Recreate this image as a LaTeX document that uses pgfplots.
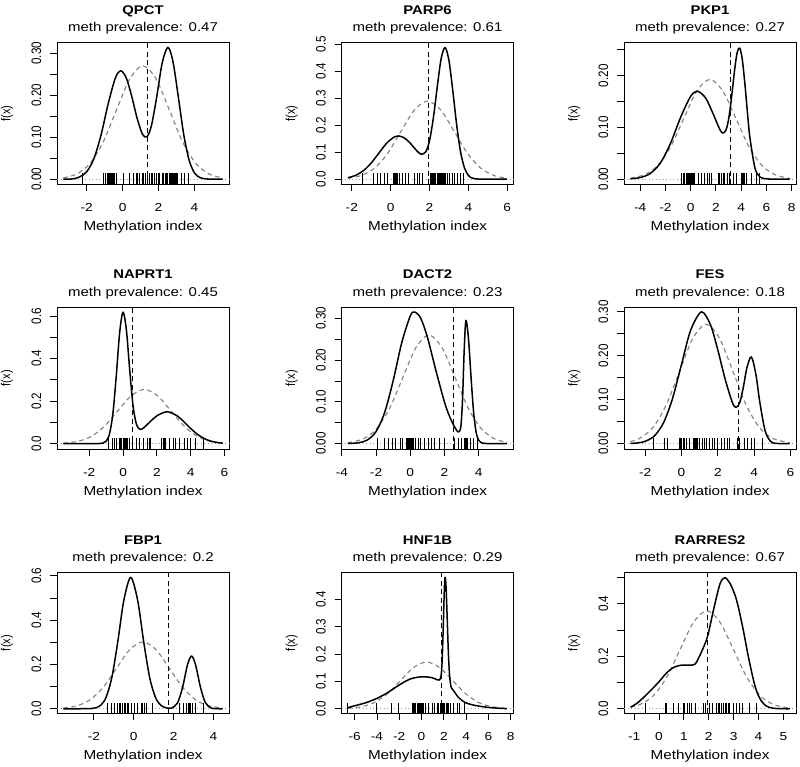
\documentclass[border=0pt]{standalone}
\usepackage{fontspec}
\setmainfont{Liberation Sans}[FakeStretch=1.176]
\newfontfamily\rotfont{Liberation Sans}[FakeStretch=0.85]
\usepackage{pgfplots}
\pgfplotsset{compat=1.18}

\newcommand\titlefont{\fontsize{12.6}{14}\selectfont\bfseries}
\newcommand\subfont{\fontsize{12.75}{14}\selectfont}
\newcommand\labfont{\fontsize{13}{14}\selectfont}
\newcommand\ylabfont{\rotfont\fontsize{13}{14}\selectfont}
\newcommand\xtickfont{\fontsize{11.65}{12}\selectfont}
\newcommand\ytickfont{\rotfont\fontsize{13.7}{14}\selectfont}

\definecolor{normgray}{gray}{0.5}
\definecolor{zerogray}{gray}{0.6}

\pgfplotsset{
  gp/.style={
    scale only axis, width=172pt, anchor=north west,
    axis line style={line width=0.9pt, black},
    tick align=outside, major tick length=7pt,
    tick style={line width=0.9pt, black},
    tick pos=left,
    clip=false,
    xticklabel style={font=\xtickfont, inner sep=0pt, anchor=base, yshift=-20pt},
    yticklabel style={font=\ytickfont, inner sep=0pt, xshift=-9pt, rotate=90, anchor=base},
    scaled ticks=false,
  },
  dens/.style={black, line width=1.5pt, smooth, no markers, line join=round},
  norm/.style={normgray, line width=1.1pt, dash pattern=on 4.5pt off 3.5pt, smooth, no markers},
  thr/.style={black, line width=1pt, dash pattern=on 5pt off 3.5pt, no markers},
  zero/.style={zerogray, line width=0.9pt, dash pattern=on 1pt off 2.5pt, no markers},
  rug/.style={only marks, mark=|, mark size=5.7pt, mark options={black, line width=1pt}},
}
\newcommand\decor[2]{%
  \node[anchor=base, yshift=28.3pt, font=\titlefont] at (rel axis cs:0.5,1) {#1};
  \node[anchor=base, yshift=10.8pt, font=\subfont] at (rel axis cs:0.5,1) {meth prevalence: #2};
  \node[anchor=base, yshift=-46pt, font=\labfont] at (rel axis cs:0.5,0) {Methylation index};
  \node[anchor=base, inner sep=0pt, xshift=-46.5pt, rotate=90, font=\ylabfont] at (rel axis cs:0,0.5) {f(x)};
}

\begin{document}
\begin{tikzpicture}
\path[use as bounding box] (0pt,0pt) rectangle (800pt,-767pt);

% ---------------- QPCT
\begin{axis}[gp, at={(57pt,-42.7pt)}, height=141.7pt,
  xmin=-3.65, xmax=5.92, ymin=-0.0125, ymax=0.325,
  xtick={-2,0,2,4}, xticklabels={-2,0,2,4},
  ytick={0,0.05,0.1,0.15,0.2,0.25,0.3}, yticklabels={0.00,,0.10,,0.20,,0.30}]
\addplot[zero] coordinates {(-3.65,0) (5.92,0)};
\addplot[norm] coordinates {(-3.3,0.003)(-2.57,0.0119)(-1.83,0.0365)(-1.09,0.0877)(-0.35,0.1638)(0.39,0.2383)(1.13,0.27)(1.87,0.2383)(2.61,0.1638)(3.35,0.0877)(4.09,0.0365)(4.83,0.0119)(5.56,0.003)};
\addplot[dens] coordinates {(-3.3,0.0001)(-2.8,0.0005)(-2.4,0.0051)(-2.0,0.0175)(-1.6,0.0484)(-1.2,0.1051)(-0.8,0.1798)(-0.4,0.2413)(-0.1,0.258)(0.2,0.2415)(0.5,0.1985)(0.8,0.1463)(1.1,0.1074)(1.35,0.1008)(1.6,0.1266)(1.9,0.1964)(2.2,0.2762)(2.52,0.314)(2.8,0.2805)(3.1,0.1958)(3.4,0.1066)(3.7,0.0452)(4.0,0.0149)(4.3,0.0038)(4.7,0.0004)(5.1,0)(5.56,0)};
\addplot[thr] coordinates {(1.37,-0.0125) (1.37,0.325)};
\addplot[rug] coordinates {(-2.21,0)(-1.06,0)(-0.95,0)(-0.85,0)(-0.8,0)(-0.75,0)(-0.7,0)(-0.65,0)(-0.6,0)(-0.55,0)(-0.5,0)(-0.45,0)(-0.35,0)(0.06,0)(0.39,0)(0.58,0)(0.76,0)(0.85,0)(0.95,0)(1.08,0)(1.17,0)(1.28,0)(1.41,0)(1.5,0)(1.6,0)(1.69,0)(1.78,0)(1.87,0)(1.97,0)(2.06,0)(2.24,0)(2.3,0)(2.36,0)(2.42,0)(2.48,0)(2.52,0)(2.62,0)(2.67,0)(2.72,0)(2.77,0)(2.82,0)(2.87,0)(2.92,0)(2.97,0)(3.02,0)(3.08,0)(3.27,0)(3.45,0)(3.69,0)};
\decor{QPCT}{0.47}
\end{axis}

% ---------------- PARP6
\begin{axis}[gp, at={(341.5pt,-42.7pt)}, height=141.7pt,
  xmin=-2.53, xmax=6.32, ymin=-0.0194, ymax=0.505,
  xtick={-2,0,2,4,6}, xticklabels={-2,0,2,4,6},
  ytick={0,0.1,0.2,0.3,0.4,0.5}, yticklabels={0.0,0.1,0.2,0.3,0.4,0.5}]
\addplot[zero] coordinates {(-2.53,0) (6.32,0)};
\addplot[norm] coordinates {(-2.2,0.0035)(-1.55,0.0127)(-0.86,0.0391)(-0.17,0.0938)(0.52,0.1753)(1.21,0.255)(1.9,0.289)(2.59,0.255)(3.28,0.1753)(3.97,0.0938)(4.66,0.0391)(5.35,0.0127)(5.99,0.0036)};
\addplot[dens] coordinates {(-2.2,0.0054)(-1.8,0.0142)(-1.4,0.0317)(-1.0,0.060)(-0.6,0.097)(-0.2,0.1336)(0.2,0.1568)(0.4,0.160)(0.7,0.153)(1.0,0.1337)(1.3,0.1085)(1.55,0.0927)(1.8,0.1005)(2.0,0.143)(2.2,0.2282)(2.4,0.3436)(2.6,0.4472)(2.8,0.487)(3.0,0.4384)(3.2,0.3252)(3.4,0.1983)(3.6,0.0995)(3.8,0.041)(4.0,0.0138)(4.2,0.0038)(4.5,0.0004)(5.0,0)(5.99,0)};
\addplot[thr] coordinates {(1.97,-0.0194) (1.97,0.505)};
\addplot[rug] coordinates {(-1.46,0)(-0.86,0)(-0.68,0)(-0.51,0)(-0.34,0)(-0.17,0)(0.17,0)(0.22,0)(0.27,0)(0.32,0)(0.37,0)(0.43,0)(0.6,0)(0.77,0)(0.94,0)(1.25,0)(1.37,0)(1.49,0)(1.63,0)(2.05,0)(2.1,0)(2.15,0)(2.2,0)(2.26,0)(2.31,0)(2.4,0)(2.48,0)(2.53,0)(2.58,0)(2.63,0)(2.68,0)(2.73,0)(2.78,0)(2.83,0)(2.91,0)(3.03,0)(3.17,0)(3.3,0)(3.42,0)(3.6,0)(3.77,0)};
\decor{PARP6}{0.61}
\end{axis}

% ---------------- PKP1
\begin{axis}[gp, at={(624pt,-42.7pt)}, height=141.7pt,
  xmin=-5.28, xmax=8.35, ymin=-0.0102, ymax=0.264,
  xtick={-4,-2,0,2,4,6,8}, xticklabels={-4,-2,0,2,4,6,8},
  ytick={0,0.05,0.1,0.15,0.2,0.25}, yticklabels={0.00,,0.10,,0.20,}]
\addplot[zero] coordinates {(-5.28,0) (8.35,0)};
\addplot[norm] coordinates {(-4.77,0.0019)(-3.66,0.0085)(-2.62,0.0261)(-1.585,0.0627)(-0.55,0.1171)(0.485,0.1703)(1.52,0.193)(2.555,0.1703)(3.59,0.1171)(4.625,0.0627)(5.66,0.0261)(6.695,0.0085)(7.73,0.0021)(7.85,0.0018)};
\addplot[dens] coordinates {(-4.77,0.0007)(-4.0,0.003)(-3.2,0.0109)(-2.4,0.0311)(-1.6,0.0689)(-0.8,0.1191)(0.0,0.1602)(0.55,0.17)(1.2,0.1565)(1.8,0.1254)(2.3,0.0967)(2.55,0.0891)(2.8,0.0949)(3.0,0.1147)(3.2,0.1493)(3.5,0.2142)(3.7,0.2463)(3.9,0.2535)(4.1,0.2304)(4.3,0.1842)(4.5,0.1294)(4.7,0.0799)(5.1,0.0213)(5.5,0.004)(6.0,0.0006)(6.5,0.0001)(7.0,0)(7.85,0)};
\addplot[thr] coordinates {(3.18,-0.0102) (3.18,0.264)};
\addplot[rug] coordinates {(-0.71,0)(-0.58,0)(-0.45,0)(-0.31,0)(-0.23,0)(-0.15,0)(-0.07,0)(0.0,0)(0.08,0)(0.16,0)(0.24,0)(0.34,0)(0.6,0)(0.87,0)(1.13,0)(1.31,0)(1.52,0)(1.65,0)(2.18,0)(2.31,0)(2.44,0)(2.57,0)(2.7,0)(2.89,0)(3.1,0)(3.36,0)(3.62,0)(4.0,0)(4.07,0)(4.14,0)(4.21,0)(4.28,0)(4.41,0)(4.8,0)(5.2,0)(5.46,0)};
\decor{PKP1}{0.27}
\end{axis}

% ---------------- NAPRT1
\begin{axis}[gp, at={(57pt,-307pt)}, height=142.3pt,
  xmin=-3.91, xmax=6.27, ymin=-0.0266, ymax=0.6426,
  xtick={-2,0,2,4,6}, xticklabels={-2,0,2,4,6},
  ytick={0,0.1,0.2,0.3,0.4,0.5,0.6}, yticklabels={0.0,,0.2,,0.4,,0.6}]
\addplot[zero] coordinates {(-3.91,0) (6.27,0)};
\addplot[norm] coordinates {(-3.53,0.0024)(-2.65,0.0112)(-1.87,0.0345)(-1.09,0.0828)(-0.305,0.1547)(0.48,0.225)(1.26,0.255)(2.04,0.225)(2.825,0.1547)(3.61,0.0828)(4.39,0.0345)(5.17,0.0112)(5.9,0.0031)};
\addplot[dens] coordinates {(-3.53,0)(-2.5,0)(-1.6,0.0002)(-1.2,0.0023)(-1.0,0.0114)(-0.8,0.0464)(-0.6,0.1428)(-0.4,0.321)(-0.2,0.5233)(0,0.6186)(0.2,0.5326)(0.4,0.3401)(0.6,0.1728)(0.8,0.0886)(1.0,0.0673)(1.2,0.0732)(1.6,0.1028)(2.0,0.1309)(2.6,0.15)(3.2,0.1309)(3.6,0.1028)(4.0,0.0715)(4.4,0.0441)(4.8,0.0241)(5.2,0.0116)(5.6,0.005)(5.9,0.0024)};
\addplot[thr] coordinates {(0.53,-0.0266) (0.53,0.6426)};
\addplot[rug] coordinates {(-0.84,0)(-0.65,0)(-0.51,0)(-0.37,0)(-0.22,0)(-0.15,0)(-0.08,0)(0.0,0)(0.08,0)(0.15,0)(0.22,0)(0.28,0)(0.41,0)(0.57,0)(0.81,0)(1.0,0)(1.2,0)(1.45,0)(1.55,0)(1.65,0)(2.3,0)(2.38,0)(2.45,0)(2.53,0)(2.73,0)(2.97,0)(3.12,0)(3.32,0)(3.61,0)(3.81,0)(4.0,0)(4.3,0)(4.79,0)};
\decor{NAPRT1}{0.45}
\end{axis}

% ---------------- DACT2
\begin{axis}[gp, at={(341.5pt,-307pt)}, height=142.3pt,
  xmin=-4.02, xmax=6.03, ymin=-0.0136, ymax=0.327,
  xtick={-4,-2,0,2,4}, xticklabels={-4,-2,0,2,4},
  ytick={0,0.05,0.1,0.15,0.2,0.25,0.3}, yticklabels={0.00,,0.10,,0.20,,0.30}]
\addplot[zero] coordinates {(-4.02,0) (6.03,0)};
\addplot[norm] coordinates {(-3.65,0.0022)(-2.745,0.0114)(-1.98,0.0352)(-1.21,0.0844)(-0.44,0.1577)(0.323,0.2295)(1.09,0.26)(1.857,0.2295)(2.624,0.1577)(3.39,0.0844)(4.16,0.0352)(4.925,0.0114)(5.66,0.003)};
\addplot[dens] coordinates {(-3.65,0.0002)(-3.0,0.0022)(-2.5,0.0089)(-2.0,0.029)(-1.5,0.0744)(-1.0,0.1508)(-0.5,0.2416)(0.0,0.3058)(0.25,0.315)(0.6,0.3008)(1.0,0.2547)(1.5,0.1744)(2.0,0.0989)(2.3,0.0643)(2.6,0.0391)(2.8,0.0277)(2.95,0.0398)(3.05,0.1035)(3.15,0.2247)(3.25,0.295)(3.4,0.2512)(3.55,0.1586)(3.7,0.0745)(3.85,0.0265)(4.0,0.0076)(4.15,0.002)(4.3,0.0008)(4.6,0.0)(5.66,0)};
\addplot[thr] coordinates {(2.54,-0.0136) (2.54,0.327)};
\addplot[rug] coordinates {(-1.91,0)(-1.52,0)(-1.25,0)(-1.05,0)(-0.86,0)(-0.6,0)(-0.47,0)(-0.21,0)(-0.15,0)(-0.09,0)(-0.03,0)(0.03,0)(0.09,0)(0.13,0)(0.18,0)(0.31,0)(0.47,0)(0.62,0)(0.82,0)(1.05,0)(1.25,0)(1.44,0)(1.68,0)(1.99,0)(2.58,0)(2.81,0)(3.0,0)(3.16,0)(3.21,0)(3.26,0)(3.31,0)(3.36,0)(3.49,0)(3.69,0)(3.94,0)};
\decor{DACT2}{0.23}
\end{axis}

% ---------------- FES
\begin{axis}[gp, at={(624pt,-307pt)}, height=142.3pt,
  xmin=-3.17, xmax=6.31, ymin=-0.0129, ymax=0.311,
  xtick={-2,0,2,4,6}, xticklabels={-2,0,2,4,6},
  ytick={0,0.05,0.1,0.15,0.2,0.25,0.3}, yticklabels={0.00,,0.10,,0.20,,0.30}]
\addplot[zero] coordinates {(-3.17,0) (6.31,0)};
\addplot[norm] coordinates {(-2.82,0.0047)(-2.31,0.0119)(-1.57,0.0368)(-0.84,0.0883)(-0.107,0.165)(0.627,0.24)(1.36,0.272)(2.09,0.24)(2.83,0.165)(3.56,0.0883)(4.29,0.0368)(5.03,0.0119)(5.96,0.002)};
\addplot[dens] coordinates {(-2.82,0.0005)(-2.4,0.0017)(-2.0,0.0053)(-1.5,0.0174)(-1.0,0.0469)(-0.5,0.1021)(0.0,0.1803)(0.5,0.2578)(1.1,0.30)(1.6,0.27)(2.0,0.2133)(2.4,0.1474)(2.8,0.0937)(3.0,0.0825)(3.2,0.0924)(3.4,0.1268)(3.6,0.1719)(3.85,0.1974)(4.1,0.1571)(4.3,0.0984)(4.6,0.0303)(4.9,0.0055)(5.2,0.0006)(5.96,0)};
\addplot[thr] coordinates {(3.14,-0.0129) (3.14,0.311)};
\addplot[rug] coordinates {(-1.54,0)(-0.94,0)(-0.75,0)(-0.11,0)(-0.05,0)(0.02,0)(0.09,0)(0.16,0)(0.26,0)(0.44,0)(0.66,0)(0.72,0)(0.78,0)(0.84,0)(0.9,0)(0.99,0)(1.14,0)(1.27,0)(1.36,0)(1.54,0)(1.69,0)(1.82,0)(2.0,0)(2.18,0)(2.37,0)(2.55,0)(2.64,0)(3.1,0)(3.19,0)(3.46,0)(3.65,0)(3.83,0)(4.0,0)(4.46,0)};
\decor{FES}{0.18}
\end{axis}

% ---------------- FBP1
\begin{axis}[gp, at={(57pt,-572.7pt)}, height=140.7pt,
  xmin=-3.85, xmax=4.78, ymin=-0.021, ymax=0.614,
  xtick={-2,0,2,4}, xticklabels={-2,0,2,4},
  ytick={0,0.1,0.2,0.3,0.4,0.5,0.6}, yticklabels={0.0,,0.2,,0.4,,0.6}]
\addplot[zero] coordinates {(-3.85,0) (4.78,0)};
\addplot[norm] coordinates {(-3.53,0.0031)(-2.84,0.0133)(-2.18,0.0409)(-1.52,0.0981)(-0.86,0.1832)(-0.2,0.2665)(0.46,0.302)(1.12,0.2665)(1.78,0.1832)(2.44,0.0981)(3.1,0.0409)(3.76,0.0133)(4.46,0.0031)};
\addplot[dens] coordinates {(-3.53,0)(-2.4,0.0002)(-2.0,0.0026)(-1.7,0.0129)(-1.4,0.0491)(-1.1,0.1407)(-0.8,0.3022)(-0.5,0.4878)(-0.15,0.593)(0.2,0.4878)(0.5,0.3022)(0.8,0.1407)(1.1,0.0491)(1.4,0.0129)(1.7,0.0027)(1.9,0.003)(2.2,0.0268)(2.45,0.0966)(2.7,0.1992)(2.9,0.238)(3.1,0.1992)(3.35,0.0966)(3.6,0.0268)(3.9,0.0028)(4.2,0.0001)(4.46,0)};
\addplot[thr] coordinates {(1.75,-0.021) (1.75,0.614)};
\addplot[rug] coordinates {(-1.3,0)(-1.13,0)(-0.97,0)(-0.8,0)(-0.72,0)(-0.64,0)(-0.56,0)(-0.48,0)(-0.4,0)(-0.32,0)(-0.24,0)(-0.13,0)(0.03,0)(0.2,0)(0.37,0)(0.45,0)(0.53,0)(0.62,0)(0.92,0)(2.28,0)(2.48,0)(2.65,0)(2.73,0)(2.8,0)(2.87,0)(2.95,0)(3.12,0)(3.48,0)};
\decor{FBP1}{0.2}
\end{axis}

% ---------------- HNF1B
\begin{axis}[gp, at={(341.5pt,-572.7pt)}, height=140.7pt,
  xmin=-7.18, xmax=8.25, ymin=-0.017, ymax=0.4976,
  xtick={-6,-4,-2,0,2,4,6,8}, xticklabels={-6,-4,-2,0,2,4,6,8},
  ytick={0,0.1,0.2,0.3,0.4}, yticklabels={0.0,0.1,0.2,0.3,0.4}]
\addplot[zero] coordinates {(-7.18,0) (8.25,0)};
\addplot[norm] coordinates {(-6.61,0.0018)(-5.375,0.0075)(-4.21,0.0231)(-3.045,0.0555)(-1.88,0.1037)(-0.715,0.1509)(0.45,0.171)(1.615,0.1509)(2.78,0.1037)(3.945,0.0555)(5.11,0.0231)(6.275,0.0075)(7.68,0.0014)};
\addplot[dens] coordinates {(-6.61,0.004)(-5.9,0.012)(-5.0,0.022)(-4.0,0.038)(-3.0,0.06)(-2.0,0.087)(-1.0,0.109)(0.0,0.117)(0.9,0.114)(1.4,0.106)(1.6,0.105)(1.75,0.1196)(1.85,0.1762)(1.95,0.3013)(2.05,0.4427)(2.12,0.481)(2.2,0.445)(2.3,0.334)(2.4,0.2126)(2.5,0.1308)(2.6,0.091)(2.7,0.0747)(2.9,0.065)(3.3,0.042)(3.9,0.023)(4.5,0.015)(5.1,0.01)(6.0,0.005)(6.9,0.002)(7.68,0.0005)};
\addplot[thr] coordinates {(1.79,-0.017) (1.79,0.4976)};
\addplot[rug] coordinates {(-6.64,0)(-4.02,0)(-2.68,0)(-2.03,0)(-0.83,0)(-0.69,0)(-0.6,0)(-0.5,0)(-0.4,0)(-0.3,0)(-0.2,0)(-0.1,0)(0.0,0)(0.1,0)(0.21,0)(0.36,0)(0.66,0)(0.95,0)(1.19,0)(1.4,0)(1.55,0)(1.7,0)(1.8,0)(1.9,0)(2.0,0)(2.1,0)(2.2,0)(2.3,0)(2.38,0)(2.59,0)(2.89,0)(3.19,0)(3.4,0)(3.87,0)};
\decor{HNF1B}{0.29}
\end{axis}

% ---------------- RARRES2
\begin{axis}[gp, at={(624pt,-572.7pt)}, height=140.7pt,
  xmin=-1.41, xmax=5.51, ymin=-0.0178, ymax=0.518,
  xtick={-1,0,1,2,3,4,5}, xticklabels={-1,0,1,2,3,4,5},
  ytick={0,0.1,0.2,0.3,0.4,0.5}, yticklabels={0.0,,0.2,,0.4,}]
\addplot[zero] coordinates {(-1.41,0) (5.51,0)};
\addplot[norm] coordinates {(-1.15,0.0061)(-0.755,0.0164)(-0.22,0.0505)(0.315,0.1211)(0.85,0.2262)(1.385,0.3292)(1.92,0.373)(2.455,0.3292)(2.99,0.2262)(3.525,0.1211)(4.06,0.0505)(4.595,0.0164)(5.13,0.0041)(5.26,0.0029)};
\addplot[dens] coordinates {(-1.15,0.006)(-0.9,0.02)(-0.6,0.045)(-0.3,0.073)(0.0,0.103)(0.3,0.136)(0.6,0.158)(0.9,0.166)(1.2,0.166)(1.45,0.17)(1.7,0.215)(1.95,0.275)(2.2,0.38)(2.45,0.475)(2.64,0.499)(2.85,0.478)(3.1,0.42)(3.35,0.318)(3.6,0.195)(3.85,0.09)(4.05,0.04)(4.3,0.011)(4.6,0.002)(5.0,0)(5.26,0)};
\addplot[thr] coordinates {(1.95,-0.0178) (1.95,0.518)};
\addplot[rug] coordinates {(-0.56,0)(0.24,0)(0.27,0)(0.31,0)(0.6,0)(0.77,0)(0.97,0)(1.04,0)(1.13,0)(1.21,0)(1.31,0)(1.48,0)(1.77,0)(1.87,0)(2.04,0)(2.15,0)(2.31,0)(2.38,0)(2.45,0)(2.52,0)(2.59,0)(2.66,0)(2.73,0)(2.8,0)(2.84,0)(3.0,0)(3.1,0)(3.24,0)(3.35,0)(3.64,0)(3.91,0)};
\decor{RARRES2}{0.67}
\end{axis}
\end{tikzpicture}
\end{document}
